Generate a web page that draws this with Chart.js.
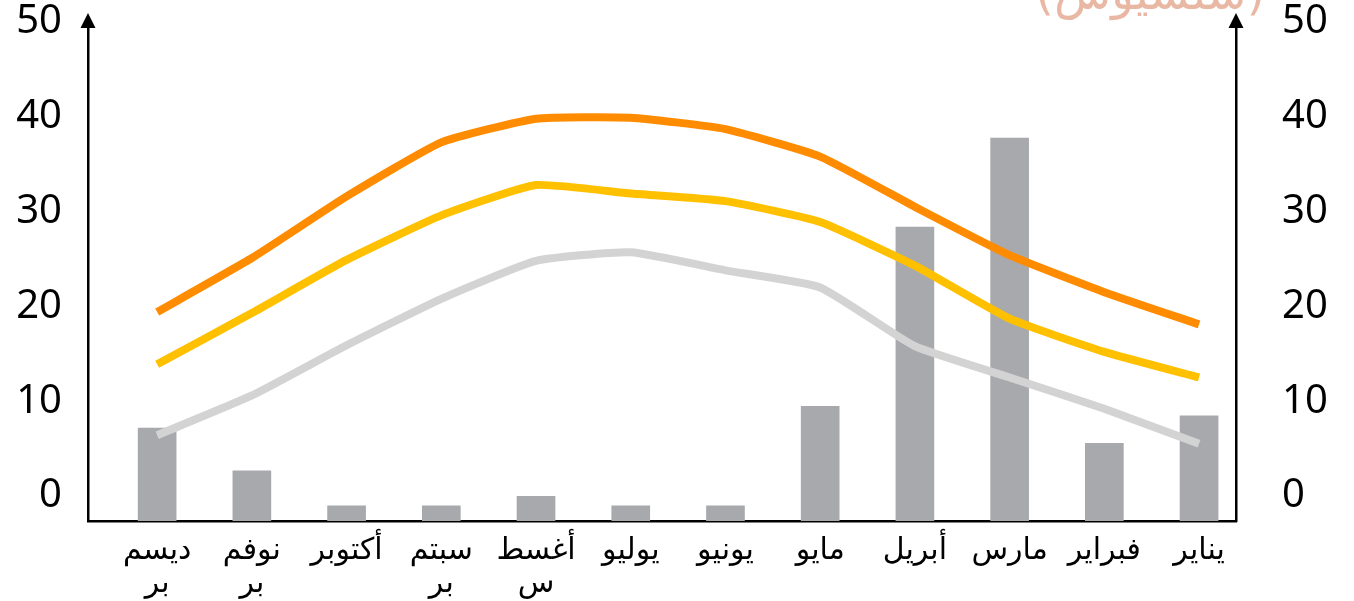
<!DOCTYPE html>
<html lang="ar">
<head>
<meta charset="utf-8">
<title>المناخ</title>
<script src="https://cdn.jsdelivr.net/npm/chart.js@4.4.1/dist/chart.umd.min.js"></script>
<style>
  html, body { margin: 0; padding: 0; background: #fff; overflow: hidden; }
  #wrap { position: relative; width: 1354px; height: 601px; overflow: hidden; }
  #unit {
    position: absolute; top: -31px; right: 89px;
    direction: rtl; white-space: nowrap;
    font: 47px/47px "DejaVu Sans", sans-serif; color: #e9b8a4;
  }
</style>
</head>
<body>
<div id="wrap">
  <canvas id="chart" width="1354" height="601"></canvas>
  <div id="unit">(سلسيوس)</div>
</div>
<script>
// months from January (drawn on the right) to December
const months = ['يناير', 'فبراير', 'مارس', 'أبريل', 'مايو', 'يونيو', 'يوليو',
  ['أغسط', 'س'], ['سبتم', 'بر'], 'أكتوبر', ['نوفم', 'بر'], ['ديسم', 'بر']];
const rainfall = [11.1, 8.2, 40.4, 31.0, 12.1, 1.6, 1.6, 2.6, 1.6, 1.6, 5.3, 9.8];
const tempMax  = [18.1, 21.5, 25.4, 30.5, 35.8, 38.7, 39.9, 39.8, 37.3, 31.6, 25.1, 19.4];
const tempMean = [12.5, 15.2, 18.7, 24.3, 28.9, 31.1, 31.9, 32.8, 29.6, 24.9, 19.3, 13.9];
const tempMin  = [5.5, 9.2, 12.5, 15.8, 22.0, 23.8, 25.7, 24.8, 20.8, 15.9, 10.6, 6.4];
const yTicks = [0, 10, 20, 30, 40, 50];

function points(values) {
  return values.map((v, i) => ({ x: i, y: v }));
}

const numberFont = { family: '"Noto Sans", sans-serif', size: 40 };

function valueAxis(position, padding) {
  return {
    axis: 'y',
    position: position,
    min: -2.64,
    max: 50.42,
    grid: { display: false, drawTicks: false },
    border: { color: '#000', width: 2.5 },
    ticks: { color: '#000', font: numberFont, padding: padding },
    afterBuildTicks: (scale) => { scale.ticks = yTicks.map(v => ({ value: v })); },
    afterFit: (scale) => {
      scale.width = position === 'left' ? 88 : 118;
      scale.paddingTop = 0;
      scale.paddingBottom = 0;
    }
  };
}

// arrow heads on top of both vertical axes
const arrowHeads = {
  id: 'arrowHeads',
  afterDraw(chart) {
    const { ctx, chartArea } = chart;
    ctx.save();
    ctx.fillStyle = '#000';
    for (const x of [chartArea.left, chartArea.right]) {
      ctx.beginPath();
      ctx.moveTo(x, chartArea.top - 5);
      ctx.lineTo(x - 7.5, chartArea.top + 10);
      ctx.lineTo(x + 7.5, chartArea.top + 10);
      ctx.closePath();
      ctx.fill();
    }
    ctx.restore();
  }
};

new Chart(document.getElementById('chart'), {
  data: {
    datasets: [
      {
        type: 'line', label: 'العظمى', data: points(tempMax), yAxisID: 'y',
        borderColor: '#ff8c00', borderWidth: 8, pointRadius: 0, tension: 0.15, order: 1
      },
      {
        type: 'line', label: 'المتوسط', data: points(tempMean), yAxisID: 'y',
        borderColor: '#ffc000', borderWidth: 8, pointRadius: 0, tension: 0.15, order: 2
      },
      {
        type: 'line', label: 'الصغرى', data: points(tempMin), yAxisID: 'y',
        borderColor: '#d2d3d2', borderWidth: 8, pointRadius: 0, tension: 0.15, order: 3
      },
      {
        type: 'bar', label: 'الأمطار', data: points(rainfall), yAxisID: 'yRain',
        backgroundColor: '#a8a9ad', barThickness: 38, order: 10
      }
    ]
  },
  options: {
    responsive: false,
    animation: false,
    layout: { padding: { top: 18, left: 0, right: 0, bottom: 0 } },
    plugins: { legend: { display: false }, tooltip: { enabled: false } },
    scales: {
      x: {
        type: 'linear',
        axis: 'x',
        reverse: true,
        offset: false,
        min: -0.39,
        max: 11.73,
        grid: { display: false, drawTicks: false, offset: false },
        border: { color: '#000', width: 2.5 },
        ticks: {
          color: '#000',
          font: { family: '"DejaVu Sans", sans-serif', size: 30, lineHeight: 1.1 },
          padding: 14,
          maxRotation: 0,
          autoSkip: false,
          callback: (value) => months[value]
        },
        afterBuildTicks: (scale) => { scale.ticks = months.map((m, i) => ({ value: i })); },
        afterFit: (scale) => {
          scale.height = 80;
          scale.paddingLeft = 0;
          scale.paddingRight = 0;
        }
      },
      y: valueAxis('left', 26),
      y2: valueAxis('right', 46),
      yRain: { axis: 'y', position: 'left', display: false, min: 0, max: 53.06 }
    }
  },
  plugins: [arrowHeads]
});
</script>
</body>
</html>
